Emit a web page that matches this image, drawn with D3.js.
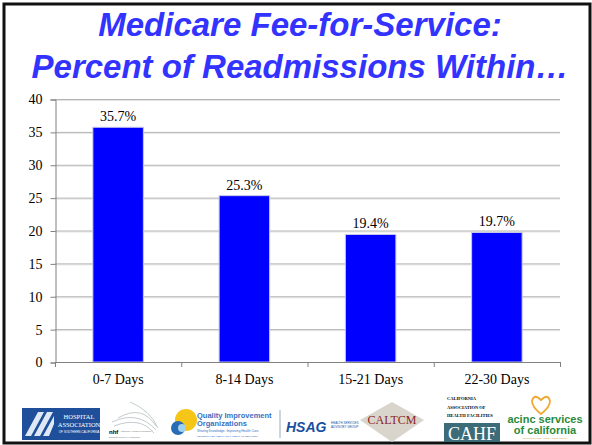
<!DOCTYPE html>
<html>
<head>
<meta charset="utf-8">
<script src="https://cdn.jsdelivr.net/npm/d3@7"></script>
<style>
  body { margin: 0; background: #fff; }
  svg { display: block; }
</style>
</head>
<body>
<div id="chart"></div>
<script>
// chart data
let categories = ['0-7 Days', '8-14 Days', '15-21 Days', '22-30 Days']
let values = [35.7, 25.3, 19.4, 19.7]
let yTicks = [0, 5, 10, 15, 20, 25, 30, 35, 40]
let titleLines = ['Medicare Fee-for-Service:', 'Percent of Readmissions Within\u2026']

let width = 592,
    height = 445

let svg = d3.select("#chart")
  .append("svg")
  .attr("width", width)
  .attr("height", height)

// slide frame
svg.append("rect")
  .attr("x", 4).attr("y", 4)
  .attr("width", 586).attr("height", 439)
  .attr("fill", "#fff")
  .attr("stroke", "#111")
  .attr("stroke-width", 3)

// title
svg.selectAll(".title")
  .data(titleLines)
  .enter()
  .append("text")
  .attr("class", "title")
  .attr("x", 300)
  .attr("y", (d, i) => 36 + i * 42)
  .attr("text-anchor", "middle")
  .style("font-family", "'Liberation Sans', Arial, sans-serif")
  .style("font-weight", "bold")
  .style("font-style", "italic")
  .style("font-size", "33px")
  .style("fill", "#3333ff")
  .text(d => d)

// plot area
let plotLeft = 55, plotRight = 560, plotTop = 99, plotBottom = 362
let serif = "'Liberation Serif', 'Times New Roman', serif"

let x = d3.scaleBand()
  .domain(categories)
  .range([plotLeft, plotRight])
  .paddingInner(0.6)
  .paddingOuter(0.3)

let xOuter = d3.scaleBand()
  .domain(categories)
  .range([plotLeft, plotRight])

let y = d3.scaleLinear()
  .domain([0, 40])
  .range([plotBottom, plotTop])

// gridlines (with a faint shadow line underneath)
let grid = svg.append("g")
grid.selectAll("line.shadow")
  .data(yTicks.filter(d => d > 0))
  .enter()
  .append("line")
  .attr("class", "shadow")
  .attr("x1", plotLeft).attr("x2", plotRight)
  .attr("y1", d => y(d) + 1.5).attr("y2", d => y(d) + 1.5)
  .attr("stroke", "#e4e4e4")
grid.selectAll("line.main")
  .data(yTicks.filter(d => d > 0))
  .enter()
  .append("line")
  .attr("class", "main")
  .attr("x1", plotLeft).attr("x2", plotRight)
  .attr("y1", d => y(d) + 0.5).attr("y2", d => y(d) + 0.5)
  .attr("stroke", "#b4b4b4")

// y axis
let yAxis = svg.append("g")
  .attr("transform", "translate(" + (plotLeft + 0.5) + ",0.5)")
  .call(d3.axisLeft(y).tickValues(yTicks).tickSize(5).tickPadding(8))
yAxis.select(".domain").attr("stroke", "#808080")
yAxis.selectAll(".tick line").attr("stroke", "#808080")
yAxis.selectAll("text")
  .style("font-family", serif)
  .style("font-size", "14px")
  .style("fill", "#000")

// bars
svg.append("g")
  .selectAll("rect")
  .data(values)
  .enter()
  .append("rect")
  .attr("x", (d, i) => x(categories[i]))
  .attr("y", d => y(d))
  .attr("width", x.bandwidth())
  .attr("height", d => plotBottom - y(d))
  .attr("fill", "#0000ff")
  .attr("stroke", "#c8c8e8")
  .attr("stroke-width", 1)

// value labels
svg.append("g")
  .selectAll("text")
  .data(values)
  .enter()
  .append("text")
  .attr("x", (d, i) => x(categories[i]) + x.bandwidth() / 2)
  .attr("y", d => y(d) - 6)
  .attr("text-anchor", "middle")
  .style("font-family", serif)
  .style("font-size", "14px")
  .text(d => d.toFixed(1) + "%")

// x axis
svg.append("line")
  .attr("x1", plotLeft).attr("x2", plotRight)
  .attr("y1", plotBottom + 0.5).attr("y2", plotBottom + 0.5)
  .attr("stroke", "#808080")
svg.append("g")
  .selectAll("line")
  .data(categories.concat(["end"]))
  .enter()
  .append("line")
  .attr("x1", (d, i) => i < categories.length ? xOuter(d) + 0.5 : plotRight + 0.5)
  .attr("x2", (d, i) => i < categories.length ? xOuter(d) + 0.5 : plotRight + 0.5)
  .attr("y1", plotBottom).attr("y2", plotBottom + 5)
  .attr("stroke", "#808080")
svg.append("g")
  .selectAll("text")
  .data(categories)
  .enter()
  .append("text")
  .attr("x", d => xOuter(d) + xOuter.bandwidth() / 2)
  .attr("y", plotBottom + 22)
  .attr("text-anchor", "middle")
  .style("font-family", serif)
  .style("font-size", "14px")
  .text(d => d)

// sponsor logos strip (simplified)
let logos = svg.append("g")
  .style("font-family", "'Liberation Sans', Arial, sans-serif")

// hospital association
logos.append("rect").attr("x", 22).attr("y", 408).attr("width", 78).attr("height", 32).attr("fill", "#1f4f9a")
logos.append("path").attr("d", "M25 436 L38 412 L44 412 L31 436 Z M34 436 L47 412 L53 412 L40 436 Z M43 436 L54 416 L54 424 L49 436 Z")
  .attr("fill", "#dfe8f5")
logos.append("text").attr("x", 79).attr("y", 419).attr("text-anchor", "middle")
  .style("font-family", serif).style("font-size", "6.5px").style("fill", "#fff").text("HOSPITAL")
logos.append("text").attr("x", 79).attr("y", 427).attr("text-anchor", "middle")
  .style("font-family", serif).style("font-size", "6.5px").style("fill", "#fff").text("ASSOCIATION")
logos.append("text").attr("x", 79).attr("y", 433).attr("text-anchor", "middle")
  .style("font-size", "3px").style("fill", "#fff").text("OF SOUTHERN CALIFORNIA")

// nhf
logos.append("path").attr("d", "M112 422 Q138 410 156 430 M114 426 Q140 416 154 433 M118 418 Q142 404 156 426 M130 402 Q150 410 158 428")
  .attr("fill", "none").attr("stroke", "#9aa").attr("stroke-width", 0.6)
logos.append("text").attr("x", 109).attr("y", 434).style("font-size", "6px").style("font-weight", "bold").text("nhf")
logos.append("text").attr("x", 121).attr("y", 432).style("font-size", "2.5px").style("fill", "#777").text("National Health Foundation")
logos.append("text").attr("x", 109).attr("y", 438).style("font-size", "2.5px").style("fill", "#777").text("Bridging Gaps in Healthcare")

// QIO
logos.append("circle").attr("cx", 186).attr("cy", 420).attr("r", 11).attr("fill", "#f5c518")
logos.append("circle").attr("cx", 178).attr("cy", 428).attr("r", 7).attr("fill", "#2a6bb5")
logos.append("circle").attr("cx", 182).attr("cy", 428).attr("r", 4).attr("fill", "#9fd0ee")
logos.append("text").attr("x", 197).attr("y", 418).style("font-size", "7.5px").style("font-weight", "bold").style("fill", "#3a6fc0").text("Quality Improvement")
logos.append("text").attr("x", 197).attr("y", 426).style("font-size", "7.5px").style("font-weight", "bold").style("fill", "#3a6fc0").text("Organizations")
logos.append("text").attr("x", 197).attr("y", 432).style("font-size", "3.2px").style("fill", "#3a6fc0").text("Sharing Knowledge. Improving Health Care.")
logos.append("text").attr("x", 197).attr("y", 437).style("font-size", "2.5px").style("fill", "#3a6fc0").text("CENTERS FOR MEDICARE & MEDICAID SERVICES")
logos.append("line").attr("x1", 280).attr("x2", 280).attr("y1", 410).attr("y2", 438).attr("stroke", "#9ab")

// HSAG
logos.append("text").attr("x", 286).attr("y", 432).style("font-size", "14px").style("font-weight", "bold")
  .style("font-style", "italic").style("fill", "#1a4fa0").text("HSAG")
logos.append("text").attr("x", 331).attr("y", 424).style("font-size", "3px").style("fill", "#1a4fa0").text("HEALTH SERVICES")
logos.append("text").attr("x", 331).attr("y", 428).style("font-size", "3px").style("fill", "#1a4fa0").text("ADVISORY GROUP")

// CALTCM
logos.append("path").attr("d", "M392 402 L424 420 L392 442 L360 420 Z").attr("fill", "#d9d4cc")
logos.append("text").attr("x", 392).attr("y", 424).attr("text-anchor", "middle")
  .style("font-family", serif).style("font-size", "12px").style("fill", "#8a1e1e").text("CALTCM")

// CAHF
let cahfLines = ["CALIFORNIA", "ASSOCIATION OF", "HEALTH FACILITIES"]
logos.selectAll(".cahf")
  .data(cahfLines)
  .enter()
  .append("text")
  .attr("class", "cahf")
  .attr("x", 447)
  .attr("y", (d, i) => 400 + i * 8.5)
  .style("font-family", serif).style("font-size", "4.5px").style("font-weight", "bold")
  .text(d => d)
logos.append("rect").attr("x", 444).attr("y", 423).attr("width", 56).attr("height", 19).attr("fill", "#3b6c78")
logos.append("text").attr("x", 472).attr("y", 440).attr("text-anchor", "middle")
  .style("font-family", serif).style("font-size", "18px").style("fill", "#fff").text("CAHF")

// aging services
logos.append("path").attr("d", "M541 400 Q534 393 532 401 Q532 407 541 414 Q550 407 550 401 Q548 393 541 400 Z")
  .attr("fill", "none").attr("stroke", "#f0a830").attr("stroke-width", 1.8)
logos.append("text").attr("x", 545).attr("y", 423).attr("text-anchor", "middle").style("font-size", "11px")
  .style("font-weight", "bold").style("fill", "#2a8a3a").text("acinc services")
logos.append("text").attr("x", 545).attr("y", 434).attr("text-anchor", "middle").style("font-size", "11px")
  .style("font-weight", "bold").style("fill", "#2a8a3a").text("of california")
logos.append("text").attr("x", 545).attr("y", 439).attr("text-anchor", "middle").style("font-size", "2.5px")
  .style("fill", "#e09a30").text("advancing quality, dignity, caring and life")
</script>
</body>
</html>
